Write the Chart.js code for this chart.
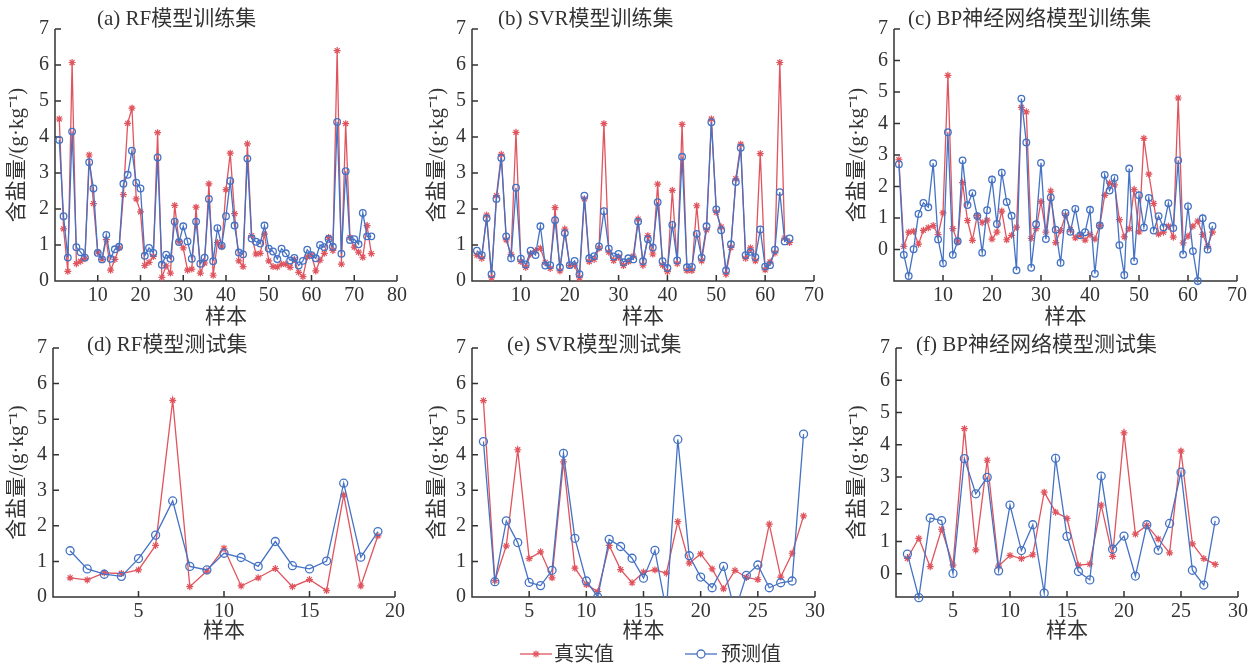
<!DOCTYPE html>
<html lang="zh">
<head>
<meta charset="UTF-8">
<title>含盐量 模型训练集/测试集</title>
<style>
    body { margin: 0; background: #fff; }
    #wrap { position: relative; width: 1255px; height: 666px; overflow: hidden; background: #fff; }
    #wrap canvas { position: absolute; }
    .ttl, .lg {
        position: absolute;
        font-family: "Liberation Serif", "Noto Sans CJK SC", serif;
        color: #333;
        white-space: nowrap;
        line-height: 1;
    }
    .ttl { font-size: 21px; }
    .lg { font-size: 20px; top: 644px; }
    .lgm { position: absolute; top: 646px; }
</style>
<script src="https://cdn.jsdelivr.net/npm/chart.js"></script>
</head>
<body>
<div id="wrap">
    <canvas id="ca" width="410" height="330" style="left:0;top:0"></canvas>
    <canvas id="cb" width="410" height="330" style="left:420px;top:0"></canvas>
    <canvas id="cc" width="415" height="330" style="left:840px;top:0"></canvas>
    <canvas id="cd" width="410" height="314" style="left:0;top:330px"></canvas>
    <canvas id="ce" width="410" height="314" style="left:420px;top:330px"></canvas>
    <canvas id="cf" width="415" height="314" style="left:840px;top:330px"></canvas>

    <div class="ttl" style="left:97px;top:8px">(a) RF模型训练集</div>
    <div class="ttl" style="left:498px;top:8px">(b) SVR模型训练集</div>
    <div class="ttl" style="left:908px;top:8px">(c) BP神经网络模型训练集</div>
    <div class="ttl" style="left:87px;top:334px">(d) RF模型测试集</div>
    <div class="ttl" style="left:507px;top:334px">(e) SVR模型测试集</div>
    <div class="ttl" style="left:916px;top:334px">(f) BP神经网络模型测试集</div>

    <svg class="lgm" style="left:519px" width="34" height="16">
        <line x1="1" y1="8" x2="33" y2="8" stroke="#E0545E" stroke-width="1.3"/>
        <g stroke="#E0545E" stroke-width="1.2">
            <line x1="13.5" y1="8" x2="20.5" y2="8"/>
            <line x1="17" y1="4.5" x2="17" y2="11.5"/>
            <line x1="14.5" y1="5.5" x2="19.5" y2="10.5"/>
            <line x1="14.5" y1="10.5" x2="19.5" y2="5.5"/>
        </g>
    </svg>
    <div class="lg" style="left:554px">真实值</div>
    <svg class="lgm" style="left:684px" width="34" height="16">
        <line x1="1" y1="8" x2="33" y2="8" stroke="#4472C4" stroke-width="1.3"/>
        <circle cx="17" cy="8" r="4" fill="#fff" stroke="#4472C4" stroke-width="1.3"/>
    </svg>
    <div class="lg" style="left:721px">预测值</div>
</div>

<script>
// ---- data ----
const rfTrainReal = [4.5, 1.45, 0.27, 6.07, 0.48, 0.55, 0.62, 3.5, 2.15, 0.8,
    0.6, 1.15, 0.3, 0.6, 0.92, 2.4, 4.38, 4.8, 2.28, 1.92,
    0.43, 0.52, 0.68, 4.12, 0.1, 0.42, 0.22, 2.1, 1.1, 0.92,
    0.3, 0.33, 2.05, 0.22, 0.5, 2.7, 0.16, 1.07, 0.95, 2.54,
    3.55, 1.87, 0.56, 0.4, 3.81, 1.26, 0.75, 0.77, 1.3, 0.56,
    0.4, 0.39, 0.47, 0.47, 0.38, 0.6, 0.24, 0.12, 0.67, 0.72,
    0.28, 0.58, 0.77, 1.21, 0.85, 6.4, 0.47, 4.37, 1.21, 0.94,
    0.8, 0.66, 1.54, 0.76];
const rfTrainPred = [3.92, 1.8, 0.65, 4.15, 0.94, 0.8, 0.65, 3.3, 2.57, 0.78,
    0.6, 1.28, 0.62, 0.88, 0.95, 2.7, 2.95, 3.62, 2.73, 2.57,
    0.7, 0.92, 0.78, 3.43, 0.45, 0.73, 0.62, 1.65, 1.08, 1.52,
    1.1, 0.62, 1.65, 0.48, 0.65, 2.28, 0.55, 1.47, 0.98, 1.8,
    2.78, 1.54, 0.79, 0.74, 3.4, 1.18, 1.09, 1.04, 1.54, 0.9,
    0.82, 0.61, 0.9, 0.77, 0.57, 0.64, 0.43, 0.56, 0.87, 0.72,
    0.63, 1.0, 0.94, 1.17, 0.95, 4.42, 0.76, 3.05, 1.14, 1.16,
    1.02, 1.89, 1.24, 1.24];

const svrTrainReal = [0.72, 0.63, 1.83, 0.09, 2.37, 3.52, 1.14, 0.74, 4.13, 0.54,
    0.38, 0.75, 0.84, 0.91, 0.52, 0.35, 2.04, 0.28, 1.44, 0.43,
    0.44, 0.09, 2.28, 0.54, 0.6, 0.91, 4.37, 0.8, 0.57, 0.66,
    0.43, 0.54, 0.69, 1.72, 0.44, 1.26, 0.75, 2.69, 0.44, 0.26,
    2.52, 0.48, 4.35, 0.29, 0.29, 2.09, 0.56, 1.42, 4.5, 1.91,
    1.5, 0.19, 0.93, 2.84, 3.8, 0.63, 0.92, 0.56, 3.54, 0.31,
    0.53, 0.78, 6.07, 1.19, 1.07];
const svrTrainPred = [0.84, 0.72, 1.74, 0.19, 2.28, 3.42, 1.24, 0.63, 2.59, 0.62,
    0.46, 0.84, 0.72, 1.52, 0.43, 0.44, 1.69, 0.38, 1.33, 0.44,
    0.56, 0.19, 2.37, 0.63, 0.69, 0.96, 1.94, 0.9, 0.68, 0.75,
    0.52, 0.63, 0.6, 1.65, 0.55, 1.16, 0.93, 2.19, 0.55, 0.36,
    1.56, 0.57, 3.45, 0.38, 0.39, 1.31, 0.65, 1.52, 4.41, 1.99,
    1.41, 0.29, 1.02, 2.75, 3.7, 0.72, 0.81, 0.66, 1.43, 0.4,
    0.44, 0.87, 2.47, 1.1, 1.18];

const bpTrainReal = [2.85, 0.1, 0.55, 0.58, 0.17, 0.61, 0.69, 0.76, 0.47, 1.16,
    5.53, 0.66, 0.24, 2.12, 0.92, 0.29, 1.08, 0.85, 0.93, 0.33,
    0.55, 1.22, 0.31, 0.45, 0.71, 4.51, 4.37, 0.35, 0.66, 1.52,
    0.55, 1.85, 0.22, 0.6, 1.09, 0.63, 0.37, 0.45, 0.3, 0.47,
    0.33, 0.76, 1.72, 2.11, 2.05, 0.95, 0.4, 0.66, 1.9, 0.56,
    3.53, 2.39, 1.46, 0.49, 0.55, 0.74, 0.39, 4.81, 0.21, 0.42,
    0.74, 0.9, 0.48, 0.1, 0.55];
const bpTrainPred = [2.71, -0.17, -0.84, 0.01, 1.13, 1.48, 1.34, 2.74, 0.32, -0.44,
    3.72, -0.17, 0.26, 2.83, 1.41, 1.79, 1.06, -0.1, 1.25, 2.22,
    0.81, 2.44, 1.51, 1.07, -0.66, 4.79, 3.4, -0.58, 0.8, 2.75,
    0.33, 1.65, 0.63, -0.42, 1.16, 0.56, 1.29, 0.45, 0.55, 1.26,
    -0.77, 0.76, 2.37, 1.87, 2.27, 0.14, -0.81, 2.57, -0.37, 1.72,
    0.7, 1.64, 0.6, 1.06, 0.7, 1.47, 0.68, 2.83, -0.16, 1.37,
    -0.05, -1.0, 0.99, 0.0, 0.75];

const rfTestReal = [0.54, 0.48, 0.68, 0.66, 0.76, 1.45, 5.53, 0.29, 0.73, 1.37,
    0.31, 0.54, 0.8, 0.29, 0.49, 0.18, 2.87, 0.31, 1.72];
const rfTestPred = [1.3, 0.79, 0.64, 0.58, 1.08, 1.74, 2.7, 0.86, 0.76, 1.23,
    1.11, 0.86, 1.56, 0.88, 0.79, 1.01, 3.2, 1.12, 1.84];

const svrTestReal = [5.52, 0.46, 1.44, 4.14, 1.08, 1.27, 0.54, 3.8, 0.81, 0.35,
    0.15, 1.45, 0.77, 0.4, 0.7, 0.76, 0.67, 2.12, 0.95, 1.21,
    0.79, 0.23, 0.75, 0.55, 0.49, 2.05, 0.56, 1.23, 2.28];
const svrTestPred = [4.37, 0.43, 2.14, 1.53, 0.41, 0.32, 0.75, 4.04, 1.65, 0.45,
    0.0, 1.62, 1.42, 1.09, 0.53, 1.31, -0.4, 4.43, 1.16, 0.56,
    0.26, 0.86, -0.4, 0.61, 0.9, 0.26, 0.4, 0.45, 4.58];

const bpTestReal = [0.48, 1.1, 0.22, 1.38, 0.27, 4.5, 0.74, 3.52, 0.24, 0.57,
    0.47, 0.59, 2.53, 1.91, 1.72, 0.27, 0.3, 2.13, 0.54, 4.37,
    1.23, 1.5, 1.08, 0.65, 3.8, 0.93, 0.47, 0.29];
const bpTestPred = [0.61, -0.74, 1.73, 1.65, 0.01, 3.57, 2.48, 2.99, 0.09, 2.13,
    0.72, 1.52, -0.6, 3.58, 1.16, 0.07, -0.19, 3.03, 0.76, 1.17,
    -0.07, 1.52, 0.73, 1.56, 3.15, 0.11, -0.35, 1.64];

const xTitle = '样本';
const yTitle = '含盐量/(g·kg⁻¹)';
const realLabel = '真实值';
const predLabel = '预测值';

// ---- style ----
const RED = '#E0545E';
const BLUE = '#4472C4';
const INK = '#333';
const SERIF = '"Liberation Serif", "Noto Sans CJK SC", serif';

// axes drawn by hand: ticks point inwards like in the figure
const frame = {
    id: 'frame',
    beforeDatasetsDraw(chart) {
        const { ctx, chartArea: a, scales: { x, y } } = chart;
        ctx.save();
        ctx.strokeStyle = INK;
        ctx.lineWidth = 1.5;
        ctx.beginPath();
        ctx.moveTo(a.left, a.top);
        ctx.lineTo(a.left, a.bottom);
        ctx.lineTo(a.right, a.bottom);
        y.ticks.forEach(t => {
            if (t.value < 0 || !Number.isInteger(t.value)) return;
            const py = y.getPixelForValue(t.value);
            ctx.moveTo(a.left, py);
            ctx.lineTo(a.left + 6, py);
        });
        x.ticks.forEach(t => {
            if (t.value <= 0) return;
            const px = x.getPixelForValue(t.value);
            ctx.moveTo(px, a.bottom);
            ctx.lineTo(px, a.bottom - 6);
        });
        ctx.stroke();
        ctx.restore();
    }
};

const toXY = arr => arr.map((v, i) => ({ x: i + 1, y: v }));

function makeChart(p) {
    // points that fall well below the axis are not drawn (their line is clipped)
    const hideBelow = c => (c.raw && c.raw.y < p.yMin - 0.1) ? 0 : p.r;
    new Chart(document.getElementById(p.id), {
        type: 'line',
        data: {
            datasets: [
                {
                    label: predLabel,
                    data: toXY(p.pred),
                    borderColor: BLUE,
                    borderWidth: 1.3,
                    pointStyle: 'circle',
                    pointRadius: hideBelow,
                    pointBorderWidth: 1.3,
                    pointBorderColor: BLUE,
                    pointBackgroundColor: 'rgba(255,255,255,0)',
                    clip: p.clip,
                    order: 0
                },
                {
                    label: realLabel,
                    data: toXY(p.real),
                    borderColor: RED,
                    borderWidth: 1.3,
                    pointStyle: 'star',
                    pointRadius: 3.5,
                    pointBorderWidth: 1.2,
                    pointBorderColor: RED,
                    pointBackgroundColor: RED,
                    clip: p.clip,
                    order: 1
                }
            ]
        },
        options: {
            responsive: false,
            animation: false,
            events: [],
            layout: { padding: { top: p.padTop, right: p.padRight, left: 0, bottom: 0 } },
            plugins: { legend: { display: false }, tooltip: { enabled: false } },
            scales: {
                x: {
                    type: 'linear',
                    min: 0,
                    max: p.xMax,
                    afterFit: s => { s.height = p.xH; },
                    grid: { display: false, drawTicks: false },
                    border: { display: false },
                    ticks: {
                        stepSize: p.xStep,
                        autoSkip: false,
                        maxRotation: 0,
                        padding: 3,
                        color: INK,
                        font: { family: SERIF, size: 20 },
                        callback: v => v === 0 ? '' : v
                    },
                    title: {
                        display: true, text: xTitle, color: INK,
                        font: { family: SERIF, size: 21 },
                        padding: 0
                    }
                },
                y: {
                    min: p.yMin,
                    max: 7,
                    afterFit: s => { s.width = p.yW; },
                    grid: { display: false, drawTicks: false },
                    border: { display: false },
                    ticks: {
                        stepSize: 1,
                        padding: 6,
                        color: INK,
                        font: { family: SERIF, size: 20 },
                        callback: v => (v < 0 || !Number.isInteger(v)) ? '' : v
                    },
                    title: {
                        display: true, text: yTitle, color: INK,
                        font: { family: SERIF, size: 21 },
                        padding: { top: 5, bottom: 0 }
                    }
                }
            }
        },
        plugins: [frame]
    });
}

const wide = { left: 8, top: 8, right: 8, bottom: 8 };

makeChart({ id: 'ca', real: rfTrainReal, pred: rfTrainPred, xMax: 80, xStep: 10, yMin: 0,
    yW: 55, padTop: 29, padRight: 13, xH: 49, r: 3.3, clip: wide });
makeChart({ id: 'cb', real: svrTrainReal, pred: svrTrainPred, xMax: 70, xStep: 10, yMin: 0,
    yW: 52, padTop: 29, padRight: 16, xH: 49, r: 3.3, clip: wide });
makeChart({ id: 'cc', real: bpTrainReal, pred: bpTrainPred, xMax: 70, xStep: 10, yMin: -1,
    yW: 54, padTop: 29, padRight: 18, xH: 49, r: 3.3, clip: wide });
makeChart({ id: 'cd', real: rfTestReal, pred: rfTestPred, xMax: 20, xStep: 5, yMin: 0,
    yW: 53, padTop: 14, padRight: 15, xH: 47, r: 4, clip: wide });
makeChart({ id: 'ce', real: svrTestReal, pred: svrTestPred, xMax: 30, xStep: 5, yMin: 0,
    yW: 52, padTop: 14, padRight: 15, xH: 47, r: 4, clip: { left: 8, top: 8, right: 8, bottom: 0 } });
makeChart({ id: 'cf', real: bpTestReal, pred: bpTestPred, xMax: 30, xStep: 5, yMin: -0.72,
    yW: 56, padTop: 14, padRight: 17, xH: 47, r: 4, clip: wide });
</script>
</body>
</html>
